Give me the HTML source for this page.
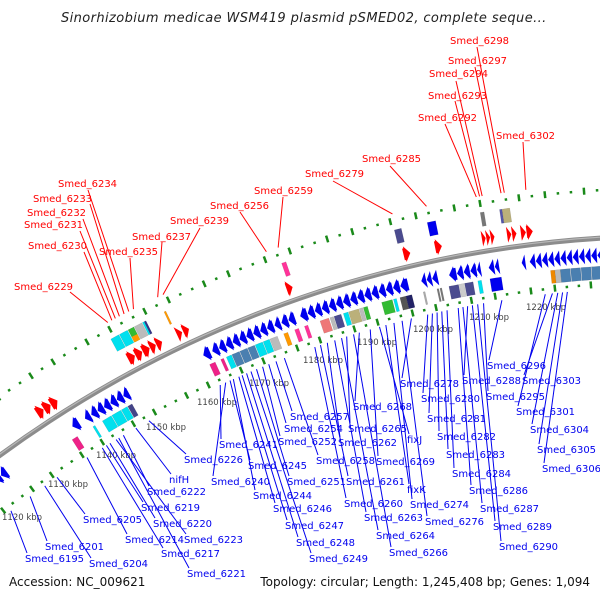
<!DOCTYPE html>
<html><head><meta charset="utf-8">
<style>
html,body{margin:0;padding:0;background:#fff;width:600px;height:600px;overflow:hidden;}
svg{display:block;font-family:"DejaVu Sans","Liberation Sans",sans-serif;}
</style></head>
<body>
<svg id="map" width="600" height="600" viewBox="0 0 600 600" xmlns="http://www.w3.org/2000/svg">
<text x="61" y="22" font-size="13" font-style="italic" fill="#222" letter-spacing="0.4">Sinorhizobium medicae WSM419 plasmid pSMED02, complete seque...</text>
<g id="rings"></g><g id="feats"></g><g id="lines"></g><g id="labels"></g>
<text x="9" y="586" font-size="12" fill="#111">Accession: NC_009621</text>
<text x="590" y="586" font-size="12" fill="#111" text-anchor="end">Topology: circular; Length: 1,245,408 bp; Genes: 1,094</text>
</svg>
<script>
// ---- data ----
const tickKbp = [1120,1130,1140,1150,1160,1170,1180,1190,1200,1210,1220];
const tickLabelPos = [[2,520],[48,487],[96,458],[146,430],[197,405],[249,386],[303,363],[357,345],[413,332],[469,320],[526,310]];
const fwdArrows = [[1133.6,1134.8],[1134.9,1136.1],[1136.2,1137.4],[1150.3,1151.5],[1151.6,1152.8],[1152.9,1154.1],[1154.2,1155.2],[1155.3,1156.3],[1158.9,1159.8],[1160,1161],[1177.6,1178.6],[1196.8,1197.9],[1201.9,1203],[1209.4,1210],[1210.1,1210.7],[1210.8,1211.4],[1213.4,1214.1],[1214.2,1214.9],[1215.6,1216.4],[1216.5,1217.5]];
const revArrows = [[1120.8,1121.9],[1122,1123.1],[1123.2,1124.3],[1137.2,1138.4],[1139.6,1140.6],[1140.8,1141.9],[1142,1143.1],[1143.2,1144.3],[1144.4,1145.5],[1145.6,1146.7],[1146.8,1147.8],
[1161.3,1162.5],[1162.9,1164],[1164.1,1165.2],[1165.3,1166.4],[1166.5,1167.6],[1167.7,1168.8],[1168.9,1170],[1170.1,1171.2],[1171.3,1172.4],[1172.5,1173.6],[1173.8,1174.8],[1175,1176.1],[1176.2,1177.3],[1178.2,1179.4],
[1179.5,1180.6],[1180.7,1181.8],[1181.9,1183],[1183.1,1184.2],[1184.3,1185.4],[1185.5,1186.6],[1186.7,1187.8],[1187.9,1189],[1189.1,1190.2],[1190.3,1191.4],[1191.5,1192.6],[1192.7,1193.8],[1193.9,1195],[1195.1,1196.4],
[1198.6,1199.4],[1199.5,1200.3],[1200.4,1201.3],[1203.2,1204.4],[1204.5,1205.5],[1205.6,1206.6],[1206.7,1207.7],[1207.8,1208.4],[1209.7,1210.6],[1210.7,1211.4],[1215.1,1215.7],
[1216.4,1217.3],[1217.4,1218.3],[1218.4,1219.3],[1219.4,1220.3],[1220.4,1221.3],[1221.4,1222.3],[1222.4,1223.3],[1223.4,1224.3],[1224.4,1225.3],[1225.4,1226.3],[1226.4,1227.3],[1227.4,1228.3],[1228.4,1229.3],[1229.4,1230.3]];
const fwdBoxes = [[1149.4,1150.8,'#00e0ee'],[1150.9,1152.3,'#00e0ee'],[1152.4,1153.4,'#33bb33'],[1153.5,1154.8,'#bbbbbb'],[1154.9,1155.2,'#00e0ee'],[1155.2,1155.5,'#333388'],[1158.6,1158.9,'#ff9900'],[1178.2,1178.9,'#ff3399'],[1196.3,1197.4,'#4b4b8f'],[1201.5,1202.8,'#0000ee'],[1209.8,1210.4,'#777777'],[1212.8,1213.2,'#5555aa'],[1213.2,1214.4,'#bbb07a'],[1230.5,1232,'#4a7fb0']];
const fwdBoxesLow = [[1152.4,1153.4,'#ff9900']];
const revBoxes = [[1136,1137,'#ee2288'],[1140,1140.4,'#00e0ee'],[1141.8,1143.5,'#00e0ee'],[1143.6,1145.3,'#00e0ee'],[1145.4,1146.5,'#00e0ee'],[1146.6,1147.4,'#444488'],
[1161.6,1162.6,'#ee2288'],[1163.6,1164.1,'#ee2288'],[1164.6,1165.5,'#00e0ee'],[1165.6,1166.9,'#4a7fb0'],[1167,1168.3,'#4a7fb0'],[1168.4,1169.6,'#4a7fb0'],[1169.7,1171,'#00e0ee'],[1171.1,1172.2,'#00e0ee'],[1172.3,1173.6,'#bbbbbb'],[1174.7,1175.4,'#ff9900'],[1176.6,1177.3,'#ff3399'],
[1178.3,1178.9,'#ff3399'],[1181,1182.5,'#ee7777'],[1182.7,1183.3,'#bbbbbb'],[1183.4,1184.6,'#4b4b8f'],[1185,1185.8,'#00e0ee'],[1185.9,1187.6,'#bbb07a'],[1187.7,1188.3,'#bbbbbb'],[1188.4,1189.1,'#33bb33'],[1191.5,1193.3,'#33bb33'],[1193.5,1194,'#00e0ee'],[1194.6,1195.6,'#555555'],[1195.6,1196.6,'#222266'],
[1198.5,1198.8,'#aaaaaa'],[1200.8,1201.1,'#777777'],[1201.3,1201.6,'#777777'],[1202.8,1204.4,'#4b4b8f'],[1204.5,1205.3,'#cccccc'],[1205.4,1206.8,'#4b4b8f'],[1207.6,1208.2,'#00e0ee'],[1209.6,1211.5,'#0000ee'],
[1219.6,1220.3,'#ee8800'],[1220.3,1221.2,'#bbbbbb'],[1221.2,1222.8,'#4a7fb0'],[1222.9,1224.5,'#4a7fb0'],[1224.6,1226.2,'#4a7fb0'],[1226.3,1227.9,'#4a7fb0'],[1228,1229.6,'#4a7fb0'],[1229.7,1231.3,'#4a7fb0']];
const redNames = ['Smed_6229','Smed_6230','Smed_6231','Smed_6232','Smed_6233','Smed_6234','Smed_6235','Smed_6237','Smed_6239','Smed_6256','Smed_6259','Smed_6279','Smed_6285','Smed_6292','Smed_6293','Smed_6294','Smed_6297','Smed_6298','Smed_6302'];
const redGeneKbp = [1150.2,1150.9,1151.5,1152.2,1153,1153.8,1154.6,1158.7,1159.6,1176.6,1178.5,1196.6,1201.9,1209.6,1210.1,1210.5,1213.4,1213.9,1217.2];
const redLabelPos = [[14,290],[28,249],[24,228],[27,216],[33,202],[58,187],[99,255],[132,240],[170,224],[210,209],[254,194],[305,177],[362,162],[418,121],[428,99],[429,77],[448,64],[450,44],[496,139]];
const redAnchor = [[70,292],[84,252],[80,231],[83,219],[90,204],[88,190],[130,258],[162,242],[200,228],[240,212],[283,197],[333,181],[390,166],[445,124],[455,101],[456,81],[475,67],[477,47],[523,142]];
const blueNames = ['Smed_6195','Smed_6201','Smed_6204','Smed_6205','Smed_6214','Smed_6217','Smed_6219','Smed_6220','Smed_6221','Smed_6222','Smed_6223','nifH','Smed_6226','Smed_6240','Smed_6241','Smed_6244','Smed_6245','Smed_6246','Smed_6247','Smed_6248','Smed_6249','Smed_6251','Smed_6252','Smed_6254','Smed_6257','Smed_6258','Smed_6260','Smed_6261','Smed_6262','Smed_6263','Smed_6264','Smed_6265','Smed_6266','Smed_6268','fixJ','Smed_6269','fixK','Smed_6274','Smed_6276','Smed_6278','Smed_6280','Smed_6281','Smed_6282','Smed_6283','Smed_6284','Smed_6286','Smed_6287','Smed_6288','Smed_6289','Smed_6290','Smed_6295','Smed_6296','Smed_6301','Smed_6303','Smed_6304','Smed_6305','Smed_6306'];
const blueGeneKbp = [1121,1125,1128,1130.5,1136.5,1139.5,1140.3,1141,1142.7,1143.6,1142.2,1146,1148.5,1162.8,1161.8,1164.2,1163.6,1165.2,1165.8,1166.6,1167.4,1168.4,1169.5,1170.6,1171.9,1173.4,1178.8,1179.8,1181,1182.3,1183.5,1184.4,1185.6,1186.6,1190.1,1188.5,1191.2,1192.6,1194,1195.6,1198.4,1199.2,1200,1200.8,1201.7,1203.6,1204.4,1205.2,1206,1206.9,1207.9,1211,1218.3,1219.5,1220.4,1221.2,1222];
const blueLabelPos = [[25,562],[45,550],[89,567],[83,523],[125,543],[161,557],[141,511],[153,527],[187,577],[147,495],[184,543],[169,483],[184,463],[211,485],[219,448],[253,499],[248,469],[273,512],[285,529],[296,546],[309,562],[287,485],[278,445],[284,432],[290,420],[316,464],[344,507],[346,485],[338,446],[364,521],[376,539],[348,432],[389,556],[353,410],[407,443],[376,465],[407,493],[410,508],[425,525],[400,387],[421,402],[427,422],[437,440],[446,458],[452,477],[469,494],[480,512],[462,384],[493,530],[499,550],[486,400],[487,369],[516,415],[522,384],[530,433],[537,453],[542,472]];

// ---- geometry ----
const CX=670.6, CY=1371, R=1135, RIN=1089, ROUT=1183;
const A0=-6.1, K=0.317;
function ang(kbp){return (A0+(kbp-1220)*K)*Math.PI/180;}
function pt(kbp,r){const a=ang(kbp);return [CX+r*Math.sin(a), CY-r*Math.cos(a)];}
const NS='http://www.w3.org/2000/svg';
function mk(tag,attrs,parent){const e=document.createElementNS(NS,tag);for(const k in attrs)e.setAttribute(k,attrs[k]);parent.appendChild(e);return e;}
const gR=document.getElementById('rings'),gF=document.getElementById('feats'),gL=document.getElementById('lines'),gT=document.getElementById('labels');

const bb=mk('circle',{cx:CX,cy:CY,r:R,fill:'none',stroke:'#8c8c8c','stroke-width':5},gR);


mk('circle',{cx:CX,cy:CY,r:R+1,fill:'none',stroke:'#b8b8b8','stroke-width':1.2},gR);

function mark(kbp,r,len,w){
  const a=pt(kbp,r-len/2),b=pt(kbp,r+len/2);
  const l=mk('line',{x1:a[0],y1:a[1],x2:b[0],y2:b[1],stroke:'#1a8a1a','stroke-width':w},gR);
  
  
}
for(let k=1110;k<=1236;k+=2){
  const big=(k%10===0)||(k%10===6);
  mark(k,ROUT,big?7:2.5,2.5);
  mark(k,RIN,big?7:2.5,2.5);
}
tickKbp.forEach((k,i)=>{
  const t=mk('text',{x:tickLabelPos[i][0],y:tickLabelPos[i][1],'font-size':'8.5',fill:'#444'},gR);
  t.textContent=k+' kbp';
  
  
});

function sector(s,e,r1,r2){
  const p=[];const n=4;
  for(let i=0;i<=n;i++)p.push(pt(s+(e-s)*i/n,r2));
  for(let i=n;i>=0;i--)p.push(pt(s+(e-s)*i/n,r1));
  return p.map(q=>q[0].toFixed(1)+','+q[1].toFixed(1)).join(' ');
}
function arrow(s,e,r1,r2,dir){
  const len=e-s, h=Math.min(len,0.9), rm=(r1+r2)/2;
  let p;
  if(dir>0){p=[pt(s,r1+2),pt(s,r2-2),pt(e-h,r2-2),pt(e-h,r2),pt(e,rm),pt(e-h,r1),pt(e-h,r1+2)];}
  else{p=[pt(e,r1+2),pt(e,r2-2),pt(s+h,r2-2),pt(s+h,r2),pt(s,rm),pt(s+h,r1),pt(s+h,r1+2)];}
  return p.map(q=>q[0].toFixed(1)+','+q[1].toFixed(1)).join(' ');
}
fwdArrows.forEach(a=>{
  const el=mk('polygon',{points:arrow(a[0],a[1],1140,1156,1),fill:'#ff0000'},gF);
  
  
});
revArrows.forEach(a=>{
  const el=mk('polygon',{points:arrow(a[0],a[1],1110,1126,-1),fill:'#0000ee'},gF);
  
  
});
fwdBoxes.forEach(b=>{
  const el=mk('polygon',{points:sector(b[0],b[1],1160,1174),fill:b[2],stroke:'rgba(0,0,0,0.15)','stroke-width':0.5},gF);
  
  
});
fwdBoxesLow.forEach(b=>{
  const el=mk('polygon',{points:sector(b[0],b[1],1160,1166),fill:b[2]},gF);
  
  
});
revBoxes.forEach(b=>{
  const el=mk('polygon',{points:sector(b[0],b[1],1094,1107),fill:b[2],stroke:'rgba(0,0,0,0.15)','stroke-width':0.5},gF);
  
  
});

redNames.forEach((n,i)=>{
  const g=pt(redGeneKbp[i],1190);
  const l=mk('line',{x1:redAnchor[i][0],y1:redAnchor[i][1],x2:g[0],y2:g[1],stroke:'#ff0000','stroke-width':1},gL);
  
  
  const t=mk('text',{x:redLabelPos[i][0],y:redLabelPos[i][1],'font-size':'10',fill:'#ff0000'},gT);
  t.textContent=n;
  
  
});
blueNames.forEach((n,i)=>{
  const g=pt(blueGeneKbp[i],1084);
  const l=mk('line',{x1:g[0],y1:g[1],x2:blueLabelPos[i][0]+2,y2:blueLabelPos[i][1]-9,stroke:'#0000ee','stroke-width':1},gL);
  
  
  const t=mk('text',{x:blueLabelPos[i][0],y:blueLabelPos[i][1],'font-size':'10',fill:'#0000ee'},gT);
  t.textContent=n;
  
  
});
</script>
</body></html>
